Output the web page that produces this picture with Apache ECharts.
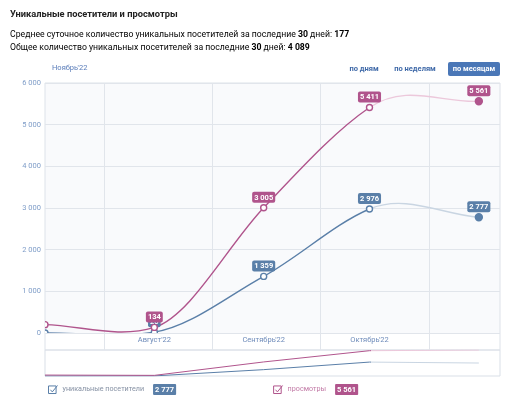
<!DOCTYPE html>
<html><head><meta charset="utf-8">
<script src="https://cdn.jsdelivr.net/npm/echarts@6/dist/echarts.min.js"></script>
<style>html,body{margin:0;padding:0;background:#fff}#c{width:514px;height:408px}</style>
</head><body><div id="c"></div>
<script>
// ---- data ----
const dates = ['2022-07-01', '2022-08-01', '2022-09-01', '2022-10-01', '2022-11-01'];
const xLabels = ['', "Август'22", "Сентябрь'22", "Октябрь'22", ''];
const visitors = [0, 20, 1359, 2976, 2777];
const views = [200, 134, 3005, 5411, 5561];
const seriesNames = ['уникальные посетители', 'просмотры'];
const avgDaily = 177;
const total30 = 4089;
const periodDays = 30;
const currentMonth = "Ноябрь'22";
const periodButtons = ['по дням', 'по неделям', 'по месяцам'];
const axisEnd = '2022-11-07';

// ---- style ----
const FONT = 'Roboto, "Noto Sans", sans-serif';
const BLUE = '#5a7fa8', BLUE_F = '#c9d5e2';
const PINK = '#b0548c', PINK_F = '#ecc8db';
const GRIDC = '#e1e5eb';
const TANGENT_W = 0.7; // curve tangent weighting (incoming vs outgoing slope)

const fmt = v => String(v).replace(/\B(?=(\d{3})+(?!\d))/g, ' ');
const pad = n => (n < 10 ? '0' : '') + n;
const keyOf = t => { const d = new Date(t); return d.getFullYear() + '-' + pad(d.getMonth() + 1) + '-' + pad(d.getDate()); };
const tOf = s => { const p = s.split('-'); return new Date(+p[0], +p[1] - 1, +p[2]).getTime(); };
const pts = arr => arr.map((v, i) => [tOf(dates[i]), v]);
const last = dates.length - 1;

// the last (incomplete) month is drawn faded
const cut = (tOf(dates[last - 1]) - tOf(dates[0])) / (tOf(dates[last]) - tOf(dates[0]));
const fadeGrad = (c, f) => new echarts.graphic.LinearGradient(0, 0, 1, 0, [
  { offset: 0, color: c }, { offset: cut, color: c }, { offset: cut, color: f }, { offset: 1, color: f }
]);

// smooth line through the points (cubic Hermite), one bezier per segment
const splineSeries = (name, arr, c, f) => ({
  type: 'custom', name, coordinateSystem: 'cartesian2d', xAxisIndex: 0, yAxisIndex: 0,
  clip: true, silent: true, z: 2, data: pts(arr), encode: { x: 0, y: 1 },
  renderItem: (params, api) => {
    const i = params.dataIndex;
    if (i >= last) return null;
    const P = [];
    for (let j = 0; j <= last; j++) P.push(api.coord([api.value(0, j), api.value(1, j)]));
    const s = [];
    for (let j = 0; j < last; j++) s.push((P[j + 1][1] - P[j][1]) / (P[j + 1][0] - P[j][0]));
    const m = j => j === 0 ? s[0] : j === last ? s[last - 1] : TANGENT_W * s[j - 1] + (1 - TANGENT_W) * s[j];
    const p1 = P[i], p2 = P[i + 1], dx = (p2[0] - p1[0]) / 3;
    return {
      type: 'bezierCurve',
      shape: { x1: p1[0], y1: p1[1], cpx1: p1[0] + dx, cpy1: p1[1] + m(i) * dx,
               cpx2: p2[0] - dx, cpy2: p2[1] - m(i + 1) * dx, x2: p2[0], y2: p2[1] },
      style: { stroke: i === last - 1 ? f : c, fill: 'none', lineWidth: 1.4 }
    };
  }
});

// point markers with value badges
const markerSeries = (name, arr, c, z) => ({
  type: 'custom', name, coordinateSystem: 'cartesian2d', xAxisIndex: 0, yAxisIndex: 0,
  clip: true, z, data: pts(arr), encode: { x: 0, y: 1 },
  renderItem: (params, api) => {
    const i = params.dataIndex;
    const p = api.coord([api.value(0), api.value(1)]);
    const children = [{
      type: 'circle', shape: { cx: p[0], cy: p[1], r: i === last ? 3.5 : 3 },
      style: { fill: i === last ? c : '#fff', stroke: c, lineWidth: 1.4 }
    }];
    if (i > 0) children.push({
      type: 'text', x: p[0], y: p[1] - 5,
      style: { text: fmt(api.value(1)), fill: '#fff', fontSize: 7.5, fontWeight: 'bold', fontFamily: FONT,
        backgroundColor: c, padding: [2, 2, 1, 2], borderRadius: 2, align: 'center', verticalAlign: 'bottom' }
    });
    return { type: 'group', children };
  }
});

const chart = echarts.init(document.getElementById('c'));
chart.setOption({
  animation: false,
  textStyle: { fontFamily: FONT },
  title: {
    left: 10, top: 10, padding: 0, text: 'Уникальные посетители и просмотры',
    textStyle: { fontSize: 9.3, fontWeight: 'bold', color: '#222', fontFamily: FONT }
  },
  graphic: [
    { type: 'text', left: 10, top: 30, style: {
      text: `{a|Среднее суточное количество уникальных посетителей за последние }{b|${periodDays}}{a| дней: }{b|${fmt(avgDaily)}}`,
      rich: { a: { fontSize: 8.7, color: '#222', fontFamily: FONT }, b: { fontSize: 8.7, fontWeight: 'bold', color: '#222', fontFamily: FONT } } } },
    { type: 'text', left: 10, top: 43, style: {
      text: `{a|Общее количество уникальных посетителей за последние }{b|${periodDays}}{a| дней: }{b|${fmt(total30)}}`,
      rich: { a: { fontSize: 8.7, color: '#222', fontFamily: FONT }, b: { fontSize: 8.7, fontWeight: 'bold', color: '#222', fontFamily: FONT } } } },
    { type: 'text', left: 52, top: 64, style: { text: currentMonth, fontSize: 7.5, fill: '#5a7dba', fontFamily: FONT } },
    { type: 'text', x: 364, y: 69, style: { text: periodButtons[0], fontSize: 7.5, fontWeight: 'bold', fill: '#3f69a8', align: 'center', verticalAlign: 'middle', fontFamily: FONT } },
    { type: 'text', x: 415, y: 69, style: { text: periodButtons[1], fontSize: 7.5, fontWeight: 'bold', fill: '#3f69a8', align: 'center', verticalAlign: 'middle', fontFamily: FONT } },
    { type: 'rect', shape: { x: 448, y: 62, width: 52, height: 14, r: 2 }, style: { fill: '#4a77b7' } },
    { type: 'text', x: 474, y: 69, style: { text: periodButtons[2], fontSize: 7.5, fontWeight: 'bold', fill: '#fff', align: 'center', verticalAlign: 'middle', fontFamily: FONT } }
  ],
  legend: {
    left: 48, top: 384, padding: 0, itemWidth: 9, itemHeight: 9, itemGap: 97,
    icon: 'path://M0,1H8V9H0Z M2,5L4,7.3L9.5,0.5',
    selectedMode: false,
    data: [
      { name: seriesNames[0], itemStyle: { color: 'transparent', borderColor: BLUE, borderWidth: 1 } },
      { name: seriesNames[1], itemStyle: { color: 'transparent', borderColor: PINK, borderWidth: 1 } }
    ],
    formatter: name => {
      const i = seriesNames.indexOf(name);
      const v = i === 0 ? visitors[last] : views[last];
      return `{n${i}|${name}}{b${i}|${fmt(v)}}`;
    },
    textStyle: {
      rich: {
        n0: { fontSize: 7.2, color: '#8590a3', padding: [0, 9, 0, 0], fontFamily: FONT },
        n1: { fontSize: 7.2, color: '#c27aa6', padding: [0, 9, 0, 0], fontFamily: FONT },
        b0: { fontSize: 7.5, fontWeight: 'bold', color: '#fff', backgroundColor: BLUE, padding: [2, 2, 1, 2], borderRadius: 1, fontFamily: FONT },
        b1: { fontSize: 7.5, fontWeight: 'bold', color: '#fff', backgroundColor: PINK, padding: [2, 2, 1, 2], borderRadius: 1, fontFamily: FONT }
      }
    }
  },
  grid: [
    { left: 45, right: 14, top: 83, bottom: 75, show: true, backgroundColor: '#f9fafc', borderWidth: 0 },
    { left: 45, right: 14, top: 350, bottom: 32, show: true, backgroundColor: '#fff', borderColor: '#d9dfe7', borderWidth: 1 },
    { left: 104, right: 85, top: 83, bottom: 58, show: false },
    { left: 45, right: 14, top: 83, bottom: 58, show: true, backgroundColor: 'transparent', borderColor: '#dde2e9', borderWidth: 1 }
  ],
  xAxis: [
    { type: 'time', gridIndex: 0, min: dates[0], max: axisEnd,
      axisLine: { show: false }, axisTick: { show: false }, splitLine: { show: false },
      axisLabel: { color: '#6f8cba', fontSize: 7.5, margin: 3, fontFamily: FONT,
        formatter: v => { const i = dates.indexOf(keyOf(v)); return i >= 0 ? xLabels[i] : ''; } } },
    { type: 'time', gridIndex: 1, min: dates[0], max: axisEnd, show: false },
    { type: 'value', gridIndex: 2, min: 0, max: 3, interval: 1,
      axisLine: { show: false }, axisTick: { show: false }, axisLabel: { show: false },
      splitLine: { show: true, lineStyle: { color: GRIDC } } },
    { type: 'value', gridIndex: 3, show: false }
  ],
  yAxis: [
    { type: 'value', gridIndex: 0, min: 0, max: 6000, interval: 1000,
      axisLine: { show: false }, axisTick: { show: false },
      axisLabel: { formatter: v => fmt(v), color: '#7f9dc8', fontSize: 7.5, margin: 4, fontFamily: FONT },
      splitLine: { lineStyle: { color: GRIDC } } },
    { type: 'value', gridIndex: 1, min: 0, max: 'dataMax', show: false },
    { type: 'value', gridIndex: 2, show: false },
    { type: 'value', gridIndex: 3, show: false }
  ],
  series: [
    splineSeries(seriesNames[0], visitors, BLUE, BLUE_F),
    splineSeries(seriesNames[1], views, PINK, PINK_F),
    markerSeries(seriesNames[0], visitors, BLUE, 3),
    markerSeries(seriesNames[1], views, PINK, 4),
    { type: 'line', name: seriesNames[0], xAxisIndex: 1, yAxisIndex: 1, data: pts(visitors),
      symbol: 'none', color: BLUE, lineStyle: { width: 1, color: fadeGrad(BLUE, BLUE_F) }, silent: true },
    { type: 'line', name: seriesNames[1], xAxisIndex: 1, yAxisIndex: 1, data: pts(views),
      symbol: 'none', color: PINK, lineStyle: { width: 1, color: fadeGrad(PINK, PINK_F) }, silent: true }
  ]
});
</script></body></html>
